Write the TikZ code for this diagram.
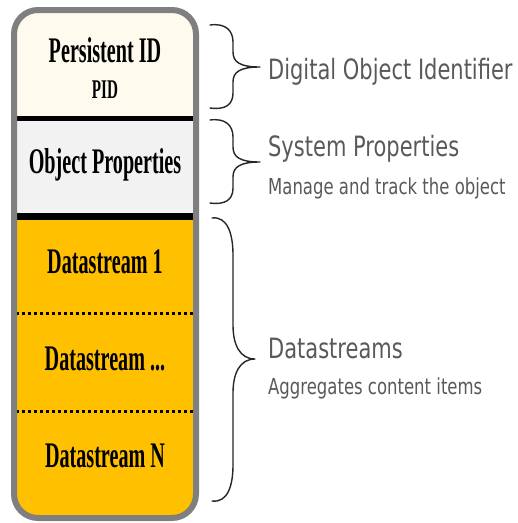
\documentclass[tikz,border=0pt]{standalone}
\usepackage{fontspec}
\setmainfont{Liberation Serif}
\newfontfamily\lblfont{DejaVu Sans}
\definecolor{creamfill}{HTML}{FEFAEE}
\definecolor{greyfill}{HTML}{F2F2F2}
\definecolor{orangefill}{HTML}{FFC000}
\definecolor{framegrey}{HTML}{7F7F7F}
\definecolor{lbltext}{HTML}{595959}
\definecolor{bracecol}{HTML}{262626}
\begin{document}
\begin{tikzpicture}[x=1pt,y=-1pt,
  cell/.style={inner sep=0pt, anchor=base, xscale=0.56, font=\bfseries\fontsize{36}{40}\selectfont},
  cellsmall/.style={inner sep=0pt, anchor=base, xscale=0.56, font=\bfseries\fontsize{27}{30}\selectfont},
  biglbl/.style={inner sep=0pt, anchor=base west, xscale=0.75, text=lbltext, font=\lblfont\fontsize{28}{32}\selectfont},
  smalllbl/.style={inner sep=0pt, anchor=base west, xscale=0.75, text=lbltext, font=\lblfont\fontsize{22}{26}\selectfont},
  sepline/.style={line width=5pt, black},
  dotline/.style={line width=3pt, black, dash pattern=on 2.5pt off 3.5pt},
  bracestyle/.style={line width=1.4pt, bracecol, line cap=round, line join=round}]
\useasboundingbox (0,0) rectangle (518,523);
% container fills
\begin{scope}
  \clip[rounded corners=24pt] (14,10) rectangle (196,518);
  \fill[creamfill] (0,0) rectangle (210,118);
  \fill[greyfill] (0,118) rectangle (210,216);
  \fill[orangefill] (0,216) rectangle (210,530);
\end{scope}
% separators
\coordinate (s1l) at (15,118); \coordinate (s1r) at (195,118);
\coordinate (s2l) at (15,216); \coordinate (s2r) at (195,216);
\coordinate (d1l) at (16,313); \coordinate (d1r) at (194,313);
\coordinate (d2l) at (16,411); \coordinate (d2r) at (194,411);
\draw[sepline] (s1l) -- (s1r);
\draw[sepline, line width=7pt] (s2l) -- (s2r);
\draw[dotline] (d1l) -- (d1r);
\draw[dotline] (d2l) -- (d2r);
% frame
\draw[framegrey, line width=6pt, rounded corners=24pt] (14,10) rectangle (196,518);
% cell texts
\node[cell] (pid) at (105,62) {Persistent ID};
\node[cellsmall] (pidabbr) at (105,98) {PID};
\node[cell] (objprop) at (105,173) {Object Properties};
\node[cell] (ds1) at (105,273) {Datastream 1};
\node[cell] (dsdots) at (105,370) {Datastream ...};
\node[cell] (dsn) at (105,467) {Datastream N};
% braces
\draw[bracestyle] (210,25) .. controls (225,23) and (233,30) .. (233,42) -- (233,52)
  .. controls (233,62) and (240,67) .. (260,67)
  .. controls (240,67) and (233,72) .. (233,82) -- (233,93)
  .. controls (233,105) and (225,110) .. (210,108);
\coordinate (tip1) at (260,67);
\draw[bracestyle] (210,120) .. controls (225,118) and (233,125) .. (233,137) -- (233,147)
  .. controls (233,157) and (240,162) .. (260,162)
  .. controls (240,162) and (233,167) .. (233,177) -- (233,188)
  .. controls (233,200) and (225,205) .. (210,203);
\coordinate (tip2) at (260,162);
\draw[bracestyle] (212,218) .. controls (228,216) and (233,235) .. (233,255) -- (233,325)
  .. controls (233,345) and (240,359) .. (255,359)
  .. controls (240,359) and (233,373) .. (233,393) -- (233,465)
  .. controls (233,485) and (228,503) .. (212,501);
\coordinate (tip3) at (255,359);
% labels
\node[biglbl] (doi) at (268,79) {Digital Object Identifier};
\node[biglbl] (sysprop) at (268,156) {System Properties};
\node[smalllbl] (manage) at (268,194) {Manage and track the object};
\node[biglbl] (dstreams) at (268,358) {Datastreams};
\node[smalllbl] (aggr) at (268,394) {Aggregates content items};
\end{tikzpicture}
\end{document}
